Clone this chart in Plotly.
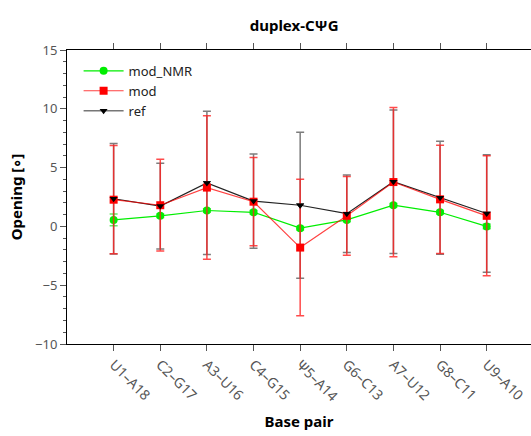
import plotly.graph_objects as go

base_pairs = ["U1\u2013A18", "C2\u2013G17", "A3\u2013U16", "C4\u2013G15", "\u03a85\u2013A14",
              "G6\u2013C13", "A7\u2013U12", "G8\u2013C11", "U9\u2013A10"]

mod_nmr = [0.55, 0.9, 1.35, 1.2, -0.15, 0.55, 1.8, 1.2, 0.0]
mod_nmr_err = [0.5, 0.15, 0.15, 0.15, 0.15, 0.15, 0.15, 0.15, 0.2]

mod = [2.27, 1.8, 3.3, 2.1, -1.8, 0.9, 3.77, 2.3, 0.9]
mod_err = [4.6, 3.9, 6.1, 3.75, 5.8, 3.35, 6.35, 4.6, 5.1]

ref = [2.35, 1.73, 3.7, 2.15, 1.8, 1.08, 3.8, 2.44, 1.1]
ref_err = [4.7, 3.65, 6.1, 4.0, 6.2, 3.3, 6.1, 4.8, 5.0]

xi = list(range(len(base_pairs)))

fig = go.Figure()
fig.add_trace(go.Scatter(
    x=xi, y=ref, name="ref", mode="lines+markers",
    line=dict(color="#222222", width=1.2),
    marker=dict(symbol="triangle-down", size=7, color="black"),
    error_y=dict(type="data", array=ref_err, color="rgba(70,70,70,0.7)", thickness=1.5, width=4),
    showlegend=False,
))
fig.add_trace(go.Scatter(
    x=xi, y=mod_nmr, name="mod_NMR", mode="lines+markers",
    line=dict(color="#00ee00", width=1.2),
    marker=dict(symbol="circle", size=8, color="#00ee00"),
    error_y=dict(type="data", array=mod_nmr_err, color="rgba(0,220,0,0.6)", thickness=1.5, width=4),
))
fig.add_trace(go.Scatter(
    x=xi, y=mod, name="mod", mode="lines+markers",
    line=dict(color="rgba(255,0,0,0.75)", width=1.2),
    marker=dict(symbol="square", size=8, color="#ff0000"),
    error_y=dict(type="data", array=mod_err, color="rgba(255,30,30,0.8)", thickness=1.5, width=4),
))
fig.add_trace(go.Scatter(
    x=xi, y=ref, name="ref", mode="markers",
    marker=dict(symbol="triangle-down", size=7, color="black"),
    showlegend=False, hoverinfo="skip",
))
# legend entry for ref (keeps legend order mod_NMR, mod, ref)
fig.add_trace(go.Scatter(
    x=[None], y=[None], name="ref", mode="lines+markers",
    line=dict(color="#777777", width=1.5),
    marker=dict(symbol="triangle-down", size=7, color="black"),
))

fig.update_layout(
    width=531, height=436,
    margin=dict(l=67, r=0, t=50, b=92),
    paper_bgcolor="white", plot_bgcolor="white",
    font=dict(family="Noto Sans", size=13, color="#333333"),
    title=dict(text="<b>duplex-C\u03a8G</b>", x=0.554, xanchor="center", y=0.94, yanchor="middle",
               font=dict(size=15, color="black")),
    legend=dict(x=0.025, y=0.98, xanchor="left", yanchor="top", bgcolor="rgba(0,0,0,0)",
                font=dict(size=13, color="#222222"), tracegroupgap=0, itemwidth=40),
    showlegend=True,
)
fig.update_xaxes(
    range=[-1.0, 8.95], tickmode="array", tickvals=xi, ticktext=base_pairs,
    tickangle=45, ticks="outside", ticklen=6, tickcolor="#555555",
    showline=True, linecolor="black", linewidth=1, mirror="ticks",
    showgrid=False, zeroline=False,
    title=dict(text="<b>Base pair</b>", font=dict(size=15, color="black"), standoff=12),
    tickfont=dict(size=14, color="#555555"),
)
fig.update_yaxes(
    range=[-10, 15], tickmode="linear", tick0=-10, dtick=5,
    ticks="outside", ticklen=6, tickcolor="#555555",
    minor=dict(dtick=1, ticks="outside", ticklen=3, tickcolor="#555555", showgrid=False),
    showline=True, linecolor="black", linewidth=1,
    showgrid=False, zeroline=False,
    title=dict(text="<b>Opening [\u2218]</b>", font=dict(size=15, color="black"), standoff=8),
    tickfont=dict(size=13, color="#555555"),
)

fig.write_html("out.html")
